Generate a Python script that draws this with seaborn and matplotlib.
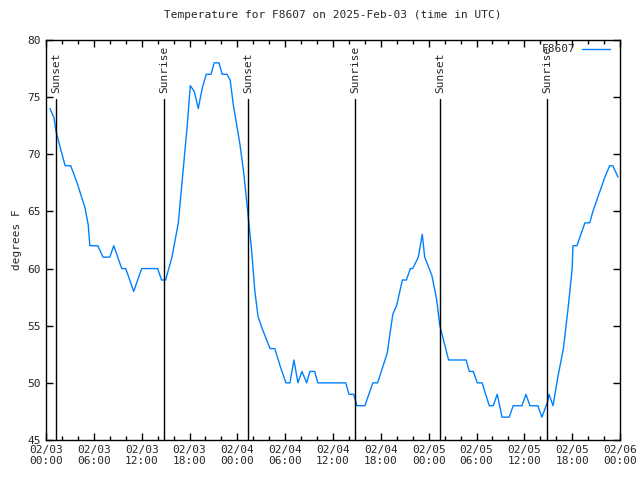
import pandas as pd
import seaborn as sns
import matplotlib
matplotlib.use("Agg")
import matplotlib.pyplot as plt
import matplotlib.dates as mdates

# hours after 2025-02-03 00:00 UTC and temperature
hours = [0.5, 1.0, 1.25, 2.4, 3.1, 3.9, 4.9, 5.3, 5.5, 6.5, 7.15, 8.0, 8.5, 9.5, 10.0,
         11.0, 12.0, 14.0, 14.5, 15.0, 15.8, 16.6, 17.7, 18.1, 18.6, 19.1, 19.6, 20.1,
         20.7, 21.1, 21.7, 22.1, 22.7, 23.1, 23.5, 24.3, 24.8, 25.3, 25.8, 26.2, 26.6,
         27.2, 28.1, 28.7, 29.4, 30.1, 30.6, 31.1, 31.6, 32.1, 32.7, 33.1, 33.7, 34.1,
         37.6, 38.0, 38.6, 39.0, 40.0, 41.0, 41.6, 42.8, 43.5, 44.0, 44.7, 45.2, 45.7,
         46.0, 46.7, 47.2, 47.5, 48.4, 49.0, 49.4, 49.7, 50.5, 52.7, 53.1, 53.6, 54.1,
         54.7, 55.6, 56.1, 56.6, 57.2, 58.1, 58.6, 59.7, 60.2, 60.7, 61.7, 62.2, 62.9,
         63.1, 63.6, 64.2, 64.9, 65.5, 66.0, 66.1, 66.6, 67.6, 68.2, 68.6, 69.1, 69.6,
         70.1, 70.7, 71.1, 71.75]
temps = [74, 73.2, 72, 69, 69, 67.5, 65.3, 63.8, 62, 62, 61, 61, 62, 60, 60,
         58, 60, 60, 59, 59, 61, 64, 72.4, 76, 75.5, 74, 75.8, 77,
         77, 78, 78, 77, 77, 76.5, 74.3, 71, 68.4, 65, 61.5, 58, 55.8,
         54.6, 53, 53, 51.4, 50, 50, 52, 50, 51, 50, 51, 51, 50,
         50, 49, 49, 48, 48, 50, 50, 52.6, 56, 56.8, 59, 59, 60,
         60, 61, 63, 61, 59.4, 57.3, 55, 54.2, 52, 52, 51, 51, 50,
         50, 48, 48, 49, 47, 47, 48, 48, 49, 48, 48, 47, 48.3,
         49, 48, 50.5, 53, 56.6, 60, 62, 62, 64, 64, 65, 66, 67,
         68, 69, 69, 68]

event_hours = [1.25, 14.8, 25.33, 38.77, 49.42, 62.85]
event_names = ["Sunset", "Sunrise", "Sunset", "Sunrise", "Sunset", "Sunrise"]

start = pd.Timestamp("2025-02-03 00:00")
df = pd.DataFrame({"time": start + pd.to_timedelta(hours, unit="h"), "temp": temps})
events = start + pd.to_timedelta(event_hours, unit="h")

sns.set_style("ticks")
plt.rcParams["font.family"] = ["DejaVu Sans Mono"]
plt.rcParams["font.size"] = 8

fig = plt.figure(figsize=(6.4, 4.8), dpi=100)
ax = fig.add_axes([46 / 640, 40 / 480, 574 / 640, 400 / 480])

sns.lineplot(data=df, x="time", y="temp", color="#0080ff", linewidth=1, label="F8607", ax=ax)

# sunrise / sunset markers
for t, name in zip(events, event_names):
    ax.plot([t, t], [45, 74.8], color="black", linewidth=1)
    ax.text(t, 75.4, name, rotation=90, ha="center", va="bottom", fontsize=8)

ax.set_xlim(start, start + pd.Timedelta(hours=72))
ax.set_ylim(45, 80)
ax.set_yticks(range(45, 81, 5))
ax.xaxis.set_major_locator(mdates.HourLocator(byhour=range(0, 24, 6)))
ax.xaxis.set_minor_locator(mdates.HourLocator(byhour=range(0, 24, 2)))
ax.xaxis.set_major_formatter(mdates.DateFormatter("%m/%d\n%H:%M"))

ax.tick_params(which="both", direction="in", top=True, right=True, labelsize=8, color="black")
ax.tick_params(which="major", length=5, width=1)
ax.tick_params(which="minor", length=3, width=1)
for s in ax.spines.values():
    s.set_color("black")
    s.set_linewidth(1)

ax.set_xlabel("")
ax.set_ylabel("degrees F", fontsize=8)
ax.set_title("Temperature for F8607 on 2025-Feb-03 (time in UTC)", fontsize=8, pad=16)
ax.legend(loc="upper right", bbox_to_anchor=(0.99, 1.0), frameon=False, markerfirst=False,
          fontsize=8, handlelength=2.5, borderaxespad=0, handletextpad=0.6)

fig.savefig("out.png", dpi=100)
